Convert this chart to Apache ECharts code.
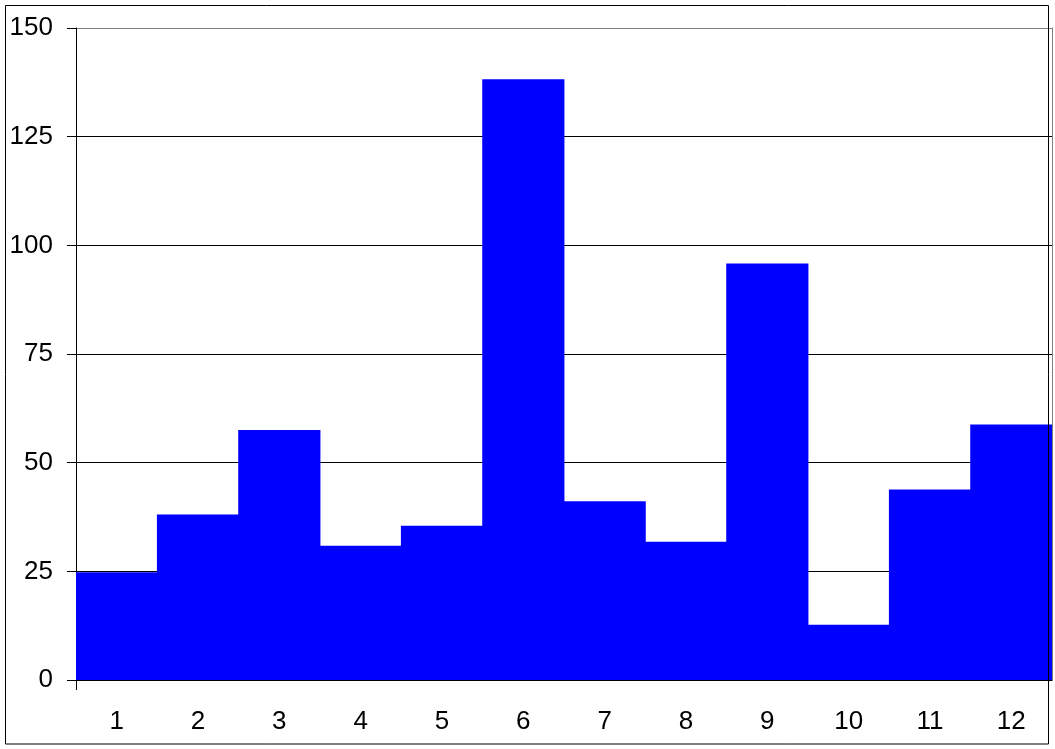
<!DOCTYPE html>
<html><head><meta charset="utf-8">
<script src="https://cdn.jsdelivr.net/npm/echarts@6/dist/echarts.min.js"></script>
<style>html,body{margin:0;padding:0;background:#fff}#c{width:1055px;height:749px}</style>
</head><body><div id="c"></div>
<script>
var categories = ['1','2','3','4','5','6','7','8','9','10','11','12'];
var values = [24.8, 38.1, 57.5, 30.9, 35.5, 138.2, 41.1, 31.8, 95.8, 12.7, 43.8, 58.8];
var yTicks = [0, 25, 50, 75, 100, 125, 150];

var chart = echarts.init(document.getElementById('c'), null, {renderer: 'canvas'});
var font = 'Liberation Sans, Arial, sans-serif';
chart.setOption({
  animation: false,
  backgroundColor: '#fff',
  graphic: [{
    type: 'rect', shape: {x: 5.5, y: 5.5, width: 1043, height: 738.5},
    style: {fill: null, stroke: '#000', lineWidth: 1}, z: 100, silent: true
  }, {
    type: 'line', shape: {x1: 76.5, y1: 680, x2: 76.5, y2: 690},
    style: {stroke: '#000', lineWidth: 1}, z: 100, silent: true
  }],
  grid: {left: 76, right: 3, top: 28, bottom: 69, containLabel: false},
  xAxis: {
    type: 'category', data: categories, boundaryGap: true,
    axisLine: {show: true, lineStyle: {color: '#000', width: 1}},
    axisTick: {show: false},
    axisLabel: {color: '#000', fontSize: 26, fontFamily: font, margin: 29},
    splitLine: {show: false}
  },
  yAxis: [{
    type: 'value', min: yTicks[0], max: yTicks[yTicks.length - 1], interval: 25,
    axisLine: {show: true, lineStyle: {color: '#000', width: 1}},
    axisTick: {show: true, length: 9, lineStyle: {color: '#000'}},
    axisLabel: {color: '#000', fontSize: 26, fontFamily: font, margin: 23},
    splitLine: {show: true, lineStyle: {color: ['#000','#000','#000','#000','#000','#000','#808080'], width: 1}}
  }, {
    type: 'value', position: 'right', min: 0, max: 150, interval: 25,
    axisLine: {show: true, lineStyle: {color: '#808080', width: 1}},
    axisTick: {show: false}, axisLabel: {show: false}, splitLine: {show: false}
  }],
  series: [{
    type: 'bar', data: values, barWidth: 82.2,
    itemStyle: {color: '#0000FF'}
  }]
});
</script>
</body></html>
